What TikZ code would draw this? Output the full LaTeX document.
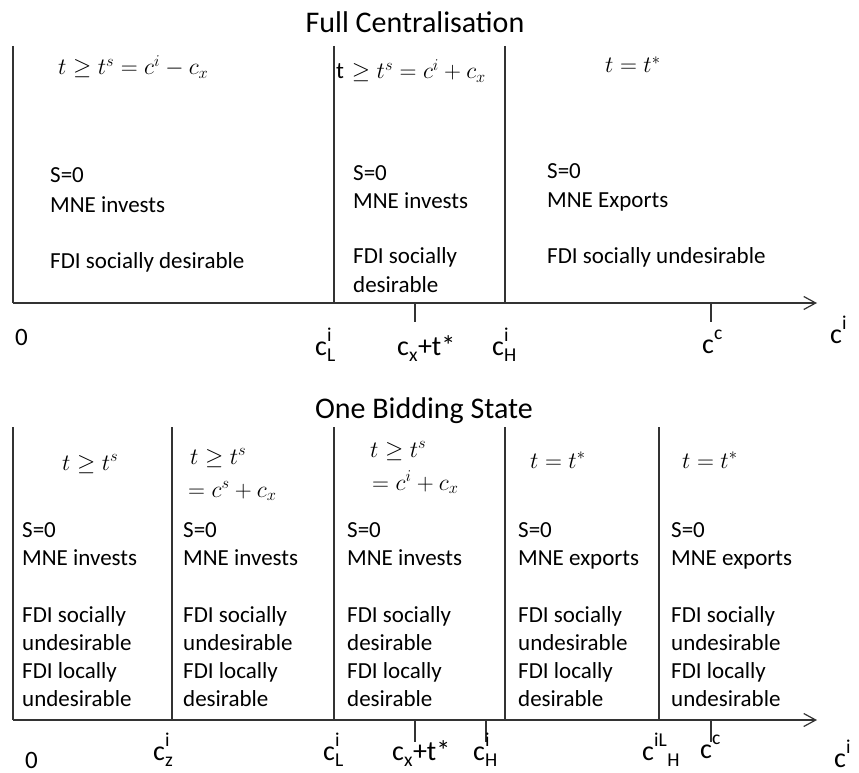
\RequirePackage{fix-cm}
\documentclass[tikz,border=0pt]{standalone}
\usepackage{fontspec}
\setmainfont{Carlito}
\usetikzlibrary{arrows.meta}
\newcommand{\bodyfnt}{\fontsize{23}{28}\selectfont}
\newcommand{\mathfnt}{\fontsize{23.5}{28}\selectfont}
\newcommand{\lblfnt}{\fontsize{28}{32}\selectfont}
\newcommand{\zerofnt}{\fontsize{25}{29}\selectfont}
\newcommand{\titlefnt}{\fontsize{30}{34}\selectfont}
\newcommand{\mysup}[1]{\raisebox{3pt}{\textsuperscript{#1}}}
\newcommand{\mysub}[1]{\raisebox{-2.5pt}{\textsubscript{#1}}}
\newcommand{\mysupsub}[2]{c\rlap{\mysup{#1}}\mysub{#2}}
\begin{document}
\begin{tikzpicture}[x=1pt,y=-1pt,
  rule/.style={line width=1.2pt, draw=black!80},
  axisline/.style={rule, -{Straight Barb[length=12pt,width=13pt,line width=1.2pt]}},
  txt/.style={anchor=base west, inner sep=0pt, font=\bodyfnt},
  mth/.style={anchor=base west, inner sep=0pt, font=\mathfnt},
  lbl/.style={anchor=base west, inner sep=0pt, font=\lblfnt},
  zero/.style={anchor=base west, inner sep=0pt, font=\zerofnt},
  ttl/.style={anchor=base, inner sep=0pt, font=\titlefnt}]
\useasboundingbox (0,0) rectangle (859,773);

% ---------------- Top panel: Full Centralisation ----------------
\node[ttl] (title1) at (415,33) {Full Centralisation};
\coordinate (a0) at (13,303);
\coordinate (aend) at (817,303);
\coordinate (v1t) at (13,46);
\coordinate (v2t) at (334,46);  \coordinate (v2b) at (334,303);
\coordinate (v3t) at (505,46);  \coordinate (v3b) at (505,303);
\coordinate (k1t) at (415,303); \coordinate (k1b) at (415,322);
\coordinate (k2t) at (711,303); \coordinate (k2b) at (711,322);
\draw[rule] (v1t) -- (a0);
\draw[rule] (v2t) -- (v2b);
\draw[rule] (v3t) -- (v3b);
\draw[rule] (k1t) -- (k1b);
\draw[rule] (k2t) -- (k2b);
\draw[axisline] (a0) -- (aend);

\node[mth] (tm1) at (58,75) {$t\geq t^s=c^i-c_x$};
\node[mth] (tm2) at (336,79) {t\,\,$\geq t^s=c^i+c_x$};
\node[mth] (tm3) at (605,73) {$t=t^*$};

\node[txt] (t1s) at (50,182) {S=0};
\node[txt] (t1m) at (50,212) {MNE invests};
\node[txt] (t1f) at (50,268) {FDI socially desirable};

\node[txt] (t2s) at (353,180) {S=0};
\node[txt] (t2m) at (353,208) {MNE invests};
\node[txt] (t2f) at (353,263) {FDI socially};
\node[txt] (t2g) at (353,292) {desirable};

\node[txt] (t3s) at (547,178) {S=0};
\node[txt] (t3m) at (547,207) {MNE Exports};
\node[txt] (t3f) at (547,263) {FDI socially undesirable};

\node[zero] (tl0) at (15,345) {0};
\node[lbl] (tl1) at (315,355) {\mysupsub{i}{L}};
\node[lbl] (tl2) at (397,355) {c\mysub{x}+t*};
\node[lbl] (tl3) at (492,355) {\mysupsub{i}{H}};
\node[lbl] (tl4) at (702,353) {c\mysup{c}};
\node[lbl] (tl5) at (830,343) {c\mysup{i}};

% ---------------- Bottom panel: One Bidding State ----------------
\node[ttl] (title2) at (424,418) {One Bidding State};
\coordinate (b0) at (13,720);
\coordinate (bend) at (817,720);
\coordinate (w1t) at (13,427);
\coordinate (w2t) at (172,427); \coordinate (w2b) at (172,720);
\coordinate (w3t) at (334,427); \coordinate (w3b) at (334,720);
\coordinate (w4t) at (505,427); \coordinate (w4b) at (505,720);
\coordinate (w5t) at (659,427); \coordinate (w5b) at (659,720);
\coordinate (j1t) at (415,720); \coordinate (j1b) at (415,742);
\coordinate (j2t) at (486,720); \coordinate (j2b) at (486,742);
\coordinate (j3t) at (711,720); \coordinate (j3b) at (711,742);
\draw[rule] (w1t) -- (b0);
\draw[rule] (w2t) -- (w2b);
\draw[rule] (w3t) -- (w3b);
\draw[rule] (w4t) -- (w4b);
\draw[rule] (w5t) -- (w5b);
\draw[rule] (j1t) -- (j1b);
\draw[rule] (j2t) -- (j2b);
\draw[rule] (j3t) -- (j3b);
\draw[axisline] (b0) -- (bend);

\node[mth] (bm1) at (62,470) {$t\geq t^s$};
\node[mth] (bm2a) at (190,464) {$t\geq t^s$};
\node[mth] (bm2b) at (188,497) {$=c^s+c_x$};
\node[mth] (bm3a) at (370,457) {$t\geq t^s$};
\node[mth] (bm3b) at (372,490) {$=c^i+c_x$};
\node[mth] (bm4) at (530,468) {$t=t^*$};
\node[mth] (bm5) at (682,468) {$t=t^*$};

\foreach \c/\xx/\vb/\sa/\la in {1/22/invests/undesirable/undesirable,
                                2/183/invests/undesirable/desirable,
                                3/347/invests/desirable/desirable,
                                4/518/exports/undesirable/desirable,
                                5/671/exports/undesirable/undesirable}{
  \node[txt] (b\c-s) at (\xx,537) {S=0};
  \node[txt] (b\c-m) at (\xx,565) {MNE \vb};
  \node[txt] (b\c-f) at (\xx,622) {FDI socially};
  \node[txt] (b\c-g) at (\xx,650) {\sa};
  \node[txt] (b\c-h) at (\xx,678) {FDI locally};
  \node[txt] (b\c-k) at (\xx,706) {\la};
}

\node[zero] (bl0) at (25,768) {0};
\node[lbl] (bl1) at (153,760) {\mysupsub{i}{z}};
\node[lbl] (bl2) at (323,760) {\mysupsub{i}{L}};
\node[lbl] (bl3) at (392,760) {c\mysub{x}+t*};
\node[lbl] (bl4) at (473,760) {\mysupsub{i}{H}};
\node[lbl] (bl5) at (642,760) {c\mysup{iL}\mysub{H}};
\node[lbl] (bl6) at (700,758) {c\mysup{c}};
\node[lbl] (bl7) at (834,767) {c\mysup{i}};
\end{tikzpicture}
\end{document}
